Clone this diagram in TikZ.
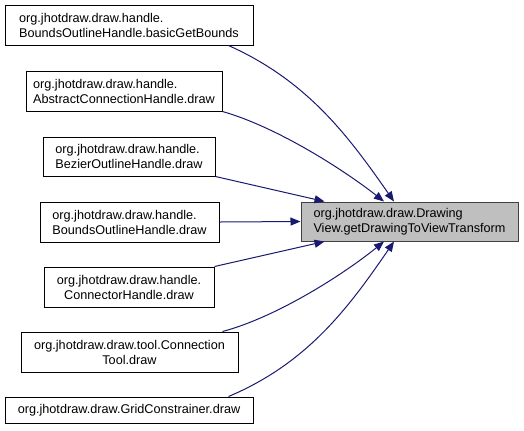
\documentclass[tikz,border=0pt]{standalone}
\usepackage{fontspec}
\setmainfont{Liberation Sans}
\usepackage{tikz}
\usetikzlibrary{calc,arrows.meta}
\usepackage{xcolor}
\definecolor{callblue}{RGB}{25,25,112}
\definecolor{targetgray}{RGB}{191,191,191}

\tikzset{
  fnbox/.style={draw=black, line width=0.75pt, fill=white, inner sep=0pt, align=left,
    minimum height=30pt, font=\fontsize{9.5pt}{11.25pt}\selectfont},
  callarrow/.style={draw=callblue, line width=0.75pt, -{Triangle[length=7.5pt,width=6pt]}}
}

\begin{document}
\begin{tikzpicture}[x=0.75pt,y=-0.75pt]
  \useasboundingbox (0,0) rectangle (524,430);

  % target function
  \node[fnbox, fill=targetgray, draw=black!75, minimum width=162.75pt, minimum height=29.25pt] (tgt) at (409.5,221.5)
    {org.jhotdraw.draw.Drawing\\View.getDrawingToViewTransform};

  % callers
  \node[fnbox, minimum width=186pt] (b1) at (129,25) {org.jhotdraw.draw.handle.\\BoundsOutlineHandle.basicGetBounds};
  \node[fnbox, minimum width=147pt] (b2) at (124,91) {org.jhotdraw.draw.handle.\\AbstractConnectionHandle.draw};
  \node[fnbox, minimum width=129pt, minimum height=29.25pt] (b3) at (129,156.5) {org.jhotdraw.draw.handle.\\BezierOutlineHandle.draw};
  \node[fnbox, minimum width=134.25pt] (b4) at (129.5,222) {org.jhotdraw.draw.handle.\\BoundsOutlineHandle.draw};
  \node[fnbox, align=center, minimum width=127.5pt] (b5) at (129,287) {org.jhotdraw.draw.handle.\\ConnectorHandle.draw};
  \node[fnbox, align=center, minimum width=162.75pt] (b6) at (129.5,352) {org.jhotdraw.draw.tool.Connection\\Tool.draw};
  \node[fnbox, minimum width=186pt, minimum height=19.5pt] (b7) at (129,410) {org.jhotdraw.draw.GridConstrainer.draw};

  % calls
  \draw[callarrow] ($(b1.south east)+(-25,0)$) .. controls (308,81) and (349,137) .. ($(tgt.north)+(-15.5,0)$);
  \draw[callarrow] (b2.south east) .. controls (277,127) and (344,170) .. ($(tgt.north)+(-25.5,0)$);
  \draw[callarrow] (b3.south east) -- ($(tgt.north west)+(24,0)$);
  \draw[callarrow] (b4.east) -- (tgt.west);
  \draw[callarrow] (b5.north east) -- ($(tgt.south west)+(24,0)$);
  \draw[callarrow] ($(b6.north east)+(-16,0)$) .. controls (277,317) and (344,274) .. ($(tgt.south)+(-25.5,0)$);
  \draw[callarrow] ($(b7.north east)+(-25,0)$) .. controls (308,363) and (349,307) .. ($(tgt.south)+(-15.5,0)$);
\end{tikzpicture}
\end{document}
